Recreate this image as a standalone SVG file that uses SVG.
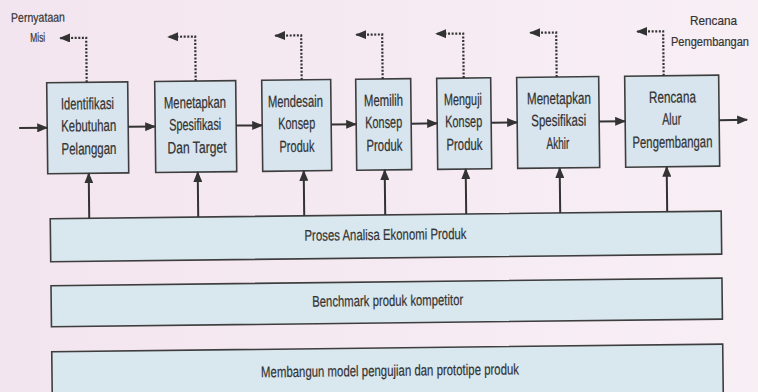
<svg xmlns="http://www.w3.org/2000/svg" width="758" height="392" viewBox="0 0 758 392">
  <defs>
    <marker id="ah" markerUnits="userSpaceOnUse" markerWidth="11" markerHeight="9" refX="10" refY="4.5" orient="auto">
      <path d="M0,0 L11,4.5 L0,9 z" fill="#333"/>
    </marker>
    <linearGradient id="bg" x1="0" y1="0" x2="1" y2="0">
      <stop offset="0" stop-color="#f3e5ef"/>
      <stop offset="1" stop-color="#f8eff5"/>
    </linearGradient>
  </defs>
  <style>
    .box { fill: #d8e5ee; stroke: #3e3e3e; stroke-width: 1.6; }
    .band { fill: #d9e7ef; stroke: #3e3e3e; stroke-width: 1.6; }
    .t { font-family: "Liberation Sans", Arial, sans-serif; font-size: 16.5px; fill: #333; stroke: #333; stroke-width: 0.25; }
    .lbl { font-family: "Liberation Sans", Arial, sans-serif; font-size: 13px; fill: #333; stroke: #333; stroke-width: 0.2; }
    .lbl-s { font-size: 12px; }
    .bt { font-family: "Liberation Sans", Arial, sans-serif; font-size: 15.5px; fill: #333; stroke: #333; stroke-width: 0.2; }
    .flow { fill: none; stroke: #333; stroke-width: 2; marker-end: url(#ah); }
    .dash { fill: none; stroke: #333; stroke-width: 2.2; stroke-dasharray: 2 1.6; marker-end: url(#ah); }
  </style>
  <rect x="0" y="0" width="758" height="392" fill="url(#bg)"/>
  <g id="label-rencana">
    <text class="lbl" x="690" y="25" textLength="47" lengthAdjust="spacingAndGlyphs">Rencana</text>
    <text class="lbl lbl-s" x="671" y="46" textLength="78" lengthAdjust="spacingAndGlyphs">Pengembangan</text>
  </g>
  <g transform="rotate(-0.65 379 196)">
    <g id="bands">
      <g id="band-analisa">
        <rect class="band" x="50" y="215" width="671" height="43"/>
        <text class="bt" x="304" y="240" textLength="162" lengthAdjust="spacingAndGlyphs">Proses Analisa Ekonomi Produk</text>
      </g>
      <g id="band-benchmark">
        <rect class="band" x="50" y="282" width="671" height="41"/>
        <text class="bt" x="311" y="306" textLength="151" lengthAdjust="spacingAndGlyphs">Benchmark produk kompetitor</text>
      </g>
      <g id="band-model">
        <rect class="band" x="50" y="348" width="671" height="60"/>
        <text class="bt" x="259" y="376" textLength="258" lengthAdjust="spacingAndGlyphs">Membangun model pengujian dan prototipe produk</text>
      </g>
    </g>
    <g id="n1">
      <rect class="box" x="48" y="79" width="81" height="91"/>
      <text class="t" x="62" y="106" textLength="53" lengthAdjust="spacingAndGlyphs">Identifikasi</text>
      <text class="t" x="62" y="128" textLength="55" lengthAdjust="spacingAndGlyphs">Kebutuhan</text>
      <text class="t" x="62" y="151" textLength="55" lengthAdjust="spacingAndGlyphs">Pelanggan</text>
    </g>
    <g id="n2">
      <rect class="box" x="156" y="79" width="81" height="91"/>
      <text class="t" x="165" y="106" textLength="62" lengthAdjust="spacingAndGlyphs">Menetapkan</text>
      <text class="t" x="170" y="128" textLength="52" lengthAdjust="spacingAndGlyphs">Spesifikasi</text>
      <text class="t" x="168" y="151" textLength="59" lengthAdjust="spacingAndGlyphs">Dan Target</text>
    </g>
    <g id="n3">
      <rect class="box" x="263" y="79" width="69" height="91"/>
      <text class="t" x="269" y="106" textLength="55" lengthAdjust="spacingAndGlyphs">Mendesain</text>
      <text class="t" x="279" y="128" textLength="37" lengthAdjust="spacingAndGlyphs">Konsep</text>
      <text class="t" x="280" y="151" textLength="35" lengthAdjust="spacingAndGlyphs">Produk</text>
    </g>
    <g id="n4">
      <rect class="box" x="357" y="79" width="55" height="91"/>
      <text class="t" x="365" y="106" textLength="39" lengthAdjust="spacingAndGlyphs">Memilih</text>
      <text class="t" x="366" y="128" textLength="37" lengthAdjust="spacingAndGlyphs">Konsep</text>
      <text class="t" x="367" y="151" textLength="36" lengthAdjust="spacingAndGlyphs">Produk</text>
    </g>
    <g id="n5">
      <rect class="box" x="438" y="79" width="54" height="91"/>
      <text class="t" x="445" y="106" textLength="38" lengthAdjust="spacingAndGlyphs">Menguji</text>
      <text class="t" x="446" y="128" textLength="37" lengthAdjust="spacingAndGlyphs">Konsep</text>
      <text class="t" x="447" y="151" textLength="36" lengthAdjust="spacingAndGlyphs">Produk</text>
    </g>
    <g id="n6">
      <rect class="box" x="518" y="79" width="82" height="91"/>
      <text class="t" x="528" y="106" textLength="64" lengthAdjust="spacingAndGlyphs">Menetapkan</text>
      <text class="t" x="532" y="128" textLength="55" lengthAdjust="spacingAndGlyphs">Spesifikasi</text>
      <text class="t" x="547" y="151" textLength="23" lengthAdjust="spacingAndGlyphs">Akhir</text>
    </g>
    <g id="n7">
      <rect class="box" x="626" y="79" width="94" height="91"/>
      <text class="t" x="650" y="106" textLength="47" lengthAdjust="spacingAndGlyphs">Rencana</text>
      <text class="t" x="663" y="128" textLength="19" lengthAdjust="spacingAndGlyphs">Alur</text>
      <text class="t" x="633" y="151" textLength="80" lengthAdjust="spacingAndGlyphs">Pengembangan</text>
    </g>
    <g id="label-misi">
      <text class="lbl" x="13" y="18" textLength="54" lengthAdjust="spacingAndGlyphs">Pernyataan</text>
      <text class="lbl" x="32" y="38" textLength="15" lengthAdjust="spacingAndGlyphs">Misi</text>
    </g>
    <g id="connectors">
      <path class="flow" d="M20 124 H48"/>
      <path class="flow" d="M129 124 H156"/>
      <path class="flow" d="M237 124 H263"/>
      <path class="flow" d="M332 124 H357"/>
      <path class="flow" d="M412 124 H438"/>
      <path class="flow" d="M492 124 H518"/>
      <path class="flow" d="M600 124 H626"/>
      <path class="flow" d="M720 124 H748"/>
      <path class="dash" d="M88 79 V34.5 H62"/>
      <path class="dash" d="M197 79 V34.5 H170"/>
      <path class="dash" d="M303 79 V34.5 H277"/>
      <path class="dash" d="M384 79 V34.5 H358"/>
      <path class="dash" d="M465 79 V34.5 H438"/>
      <path class="dash" d="M558 79 V34.5 H532"/>
      <path class="dash" d="M665 79 V34.5 H639"/>
      <path class="flow" d="M89 215 V170"/>
      <path class="flow" d="M198 215 V170"/>
      <path class="flow" d="M304 215 V170"/>
      <path class="flow" d="M385 215 V170"/>
      <path class="flow" d="M466 215 V170"/>
      <path class="flow" d="M560 215 V170"/>
      <path class="flow" d="M667 215 V170"/>
    </g>
  </g>
</svg>
